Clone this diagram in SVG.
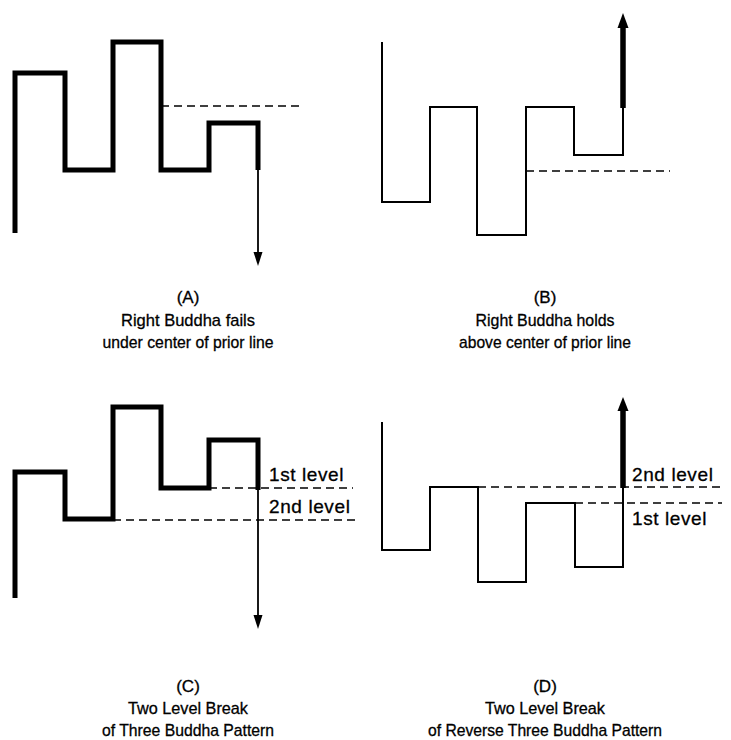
<svg xmlns="http://www.w3.org/2000/svg" width="731" height="740" viewBox="0 0 731 740">
<style>
.thick{fill:none;stroke:#000;stroke-width:5;stroke-linejoin:miter;stroke-linecap:butt}
.thin{fill:none;stroke:#000;stroke-width:2;stroke-linejoin:miter}
.shaft{fill:none;stroke:#000;stroke-width:1.8}
.bshaft{fill:none;stroke:#000;stroke-width:5.5}
.dash{fill:none;stroke:#000;stroke-width:1.6;stroke-dasharray:8 5}
.head{fill:#000}
.cap{font-family:"Liberation Sans",Arial,sans-serif;font-size:17px;fill:#000;stroke:#000;stroke-width:0.3;text-anchor:middle}
.lbl{font-family:"Liberation Sans",Arial,sans-serif;font-size:19px;fill:#000;stroke:#000;stroke-width:0.3;letter-spacing:0.6px}
</style>
<rect width="731" height="740" fill="#fff"/>
<g id="panelA">
<path class="thick" d="M15,233 V73 H65 V170 H113 V42 H161 V170 H209 V123 H258 V170"/>
<path class="dash" d="M161,106 H303"/>
<path class="shaft" d="M258,168 V253"/>
<polygon class="head" points="253.5,252 262.5,252 258,266"/>
<text class="cap" x="188" y="303">(A)</text>
<text class="cap" x="188" y="326" textLength="134" lengthAdjust="spacingAndGlyphs">Right Buddha fails</text>
<text class="cap" x="188" y="348" textLength="171" lengthAdjust="spacingAndGlyphs">under center of prior line</text>
</g>
<g id="panelB">
<path class="thin" d="M382,42 V202 H430 V107 H477 V235 H526 V107 H574 V155 H623 V107"/>
<path class="dash" d="M526,171 H670"/>
<path class="bshaft" d="M623,108 V26"/>
<polygon class="head" points="617.5,28 628.5,28 623,13"/>
<text class="cap" x="545" y="303">(B)</text>
<text class="cap" x="545" y="326" textLength="139" lengthAdjust="spacingAndGlyphs">Right Buddha holds</text>
<text class="cap" x="545" y="348" textLength="172" lengthAdjust="spacingAndGlyphs">above center of prior line</text>
</g>
<g id="panelC">
<path class="thick" d="M15,598 V472 H65 V519 H113 V407 H161 V488 H209 V440 H258 V490"/>
<path class="dash" d="M209,488 H353"/>
<path class="dash" d="M113,520 H355"/>
<path class="shaft" d="M258,488 V616"/>
<polygon class="head" points="253.5,615 262.5,615 258,629"/>
<text class="lbl" x="269" y="481">1st level</text>
<text class="lbl" x="269" y="513">2nd level</text>
<text class="cap" x="188" y="692">(C)</text>
<text class="cap" x="188" y="714" textLength="120" lengthAdjust="spacingAndGlyphs">Two Level Break</text>
<text class="cap" x="188" y="736" textLength="172" lengthAdjust="spacingAndGlyphs">of Three Buddha Pattern</text>
</g>
<g id="panelD">
<path class="thin" d="M382,422 V550 H430 V487 H478 V582 H526 V503 H575 V567 H623 V487"/>
<path class="dash" d="M478,487 H722"/>
<path class="dash" d="M575,503 H722"/>
<path class="bshaft" d="M623,488 V409"/>
<polygon class="head" points="617.5,411 628.5,411 623,397"/>
<text class="lbl" x="632" y="481">2nd level</text>
<text class="lbl" x="632" y="525">1st level</text>
<text class="cap" x="545" y="692">(D)</text>
<text class="cap" x="545" y="714" textLength="120" lengthAdjust="spacingAndGlyphs">Two Level Break</text>
<text class="cap" x="545" y="736" textLength="234" lengthAdjust="spacingAndGlyphs">of Reverse Three Buddha Pattern</text>
</g>
</svg>
